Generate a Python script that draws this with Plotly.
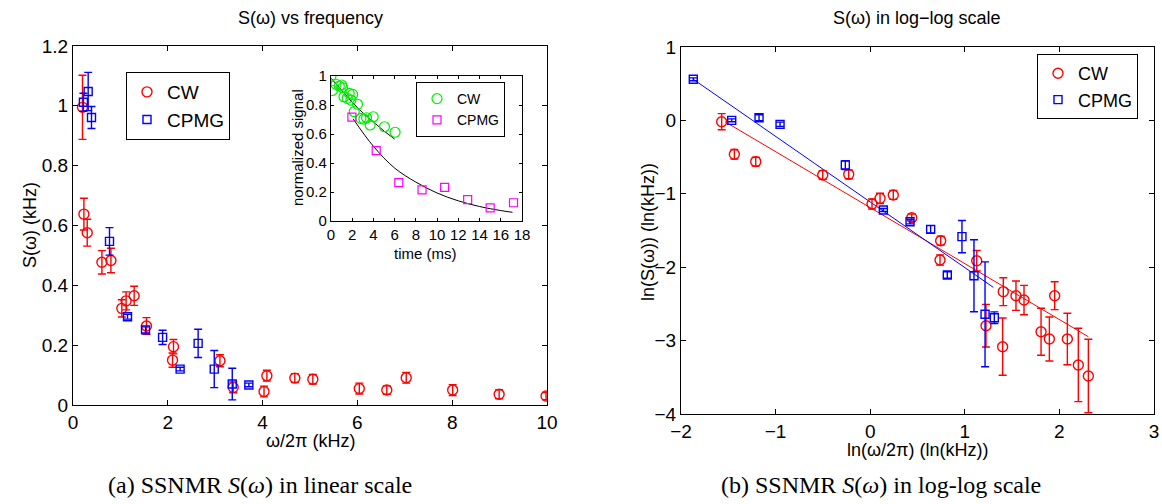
import plotly.graph_objects as go

W, H = 1162, 504

# ---------------- data: panel (a) linear scale ----------------
lin_cw_x = [0.20, 0.23, 0.30, 0.61, 0.80, 1.03, 1.12, 1.29, 1.55, 2.10, 2.12, 3.10, 3.38,
            4.03, 4.09, 4.68, 5.06, 6.04, 6.62, 7.03, 8.01, 8.99, 9.98]
lin_cw_y = [0.995, 0.638, 0.576, 0.477, 0.483, 0.323, 0.348, 0.365, 0.264, 0.150, 0.195, 0.148, 0.059,
            0.045, 0.098, 0.090, 0.086, 0.055, 0.050, 0.091, 0.050, 0.036, 0.030]
lin_cw_err = [0.107, 0.053, 0.045, 0.039, 0.041, 0.029, 0.030, 0.032, 0.028, 0.024, 0.024, 0.020, 0.018,
              0.018, 0.018, 0.015, 0.016, 0.018, 0.014, 0.018, 0.018, 0.015, 0.012]

lin_cpmg_x = [0.22, 0.32, 0.39, 0.77, 1.15, 1.53, 1.89, 2.26, 2.64, 2.98, 3.36, 3.71]
lin_cpmg_y = [1.012, 1.048, 0.961, 0.547, 0.295, 0.251, 0.226, 0.120, 0.206, 0.120, 0.070, 0.067]
lin_cpmg_err = [0.030, 0.064, 0.037, 0.046, 0.008, 0.010, 0.024, 0.006, 0.047, 0.062, 0.053, 0.006]

# ---------------- data: inset (normalized decay) ----------------
ins_cw_t = [0.0, 0.13, 0.47, 0.78, 1.0, 1.1, 1.22, 1.53, 1.72, 2.04, 1.88, 2.19, 2.5, 2.82,
            3.1, 3.35, 3.69, 3.98, 5.04, 6.04]
ins_cw_s = [1.0, 0.90, 0.943, 0.931, 0.938, 0.919, 0.857, 0.846, 0.88, 0.873, 0.834, 0.754, 0.805,
            0.708, 0.703, 0.712, 0.662, 0.719, 0.65, 0.612]
ins_cpmg_t = [1.97, 4.26, 6.39, 8.58, 10.71, 12.88, 15.0, 17.2]
ins_cpmg_s = [0.717, 0.485, 0.264, 0.214, 0.232, 0.147, 0.090, 0.126]
ins_cw_fit_t = [0, 1, 2, 3, 4, 5, 6]
ins_cw_fit_s = [0.985, 0.898, 0.818, 0.746, 0.68, 0.62, 0.565]
ins_cpmg_fit_t = [2.1, 4, 6, 8, 10, 12, 14, 16, 17.1]
ins_cpmg_fit_s = [0.703, 0.515, 0.365, 0.268, 0.193, 0.139, 0.10, 0.072, 0.06]

# ---------------- data: panel (b) log-log ----------------
log_cw_x = [-1.570, -1.436, -1.210, -0.502, -0.227, 0.019, 0.104, 0.244, 0.439, 0.745, 0.738,
            1.126, 1.224, 1.400, 1.407, 1.541, 1.626, 1.806, 1.894, 1.950, 2.084, 2.200, 2.306]
log_cw_y = [-0.018, -0.462, -0.562, -0.744, -0.735, -1.139, -1.062, -1.016, -1.325, -1.639, -1.902,
            -1.912, -2.797, -3.083, -2.333, -2.388, -2.447, -2.879, -2.978, -2.388, -2.978, -3.332, -3.482]
log_cw_err = [0.11, 0.065, 0.06, 0.06, 0.06, 0.07, 0.07, 0.06, 0.05, 0.06, 0.07,
              0.14, 0.29, 0.39, 0.19, 0.20, 0.20, 0.32, 0.30, 0.19, 0.35, 0.50, 0.50]

log_cpmg_x = [-1.870, -1.464, -1.175, -0.953, -0.263, 0.139, 0.421, 0.639, 0.815, 0.970, 1.097, 1.214, 1.312]
log_cpmg_y = [0.560, 0.001, 0.037, -0.054, -0.608, -1.221, -1.380, -1.484, -2.106, -1.584, -2.116, -2.642, -2.688]
log_cpmg_err = [0.02, 0.02, 0.04, 0.03, 0.06, 0.02, 0.03, 0.05, 0.045, 0.22, 0.49, 0.715, 0.08]

log_cw_fit_x = [-1.535, 2.306]
log_cw_fit_y = [-0.018, -2.947]
log_cpmg_fit_x = [-1.870, 1.301]
log_cpmg_fit_y = [0.560, -2.274]

lin_x_ticks = [0, 2, 4, 6, 8, 10]
lin_y_ticks = [0, 0.2, 0.4, 0.6, 0.8, 1.0, 1.2]
ins_x_ticks = [0, 2, 4, 6, 8, 10, 12, 14, 16, 18]
ins_y_ticks = [0, 0.2, 0.4, 0.6, 0.8, 1.0]
log_x_ticks = [-2, -1, 0, 1, 2, 3]
log_y_ticks = [1, 0, -1, -2, -3, -4]

# ---------------- styling ----------------
RED = "#ff0000"
BLUE = "#0000ff"
GREEN = "#00ee00"
MAG = "#ff00ff"
FONT = "Liberation Sans, Arial, sans-serif"


def px(x0, x1):
    return [x0 / W, x1 / W]


def py(top, bottom):
    return [1 - bottom / H, 1 - top / H]


fig = go.Figure()


def err_scatter(x, y, e, color, symbol, size, xa, ya, name, legend, showlegend=True):
    fig.add_trace(go.Scatter(
        x=x, y=y, mode="markers", name=name, xaxis=xa, yaxis=ya,
        legend=legend, showlegend=showlegend,
        marker=dict(symbol=symbol, size=size, color=color, line=dict(color=color, width=1.4)),
        error_y=dict(type="data", array=e, visible=True, color=color, thickness=1.4, width=4),
    ))


# panel a
err_scatter(lin_cw_x, lin_cw_y, lin_cw_err, RED, "circle-open", 10, "x", "y", "CW", "legend")
err_scatter(lin_cpmg_x, lin_cpmg_y, lin_cpmg_err, BLUE, "square-open", 8, "x", "y", "CPMG", "legend")

# inset
fig.add_trace(go.Scatter(x=ins_cw_fit_t, y=ins_cw_fit_s, mode="lines", xaxis="x3", yaxis="y3",
                         line=dict(color="black", width=1), showlegend=False))
fig.add_trace(go.Scatter(x=ins_cpmg_fit_t, y=ins_cpmg_fit_s, mode="lines", xaxis="x3", yaxis="y3",
                         line=dict(color="black", width=1, shape="spline"), showlegend=False))
fig.add_trace(go.Scatter(x=ins_cw_t, y=ins_cw_s, mode="markers", name="CW", xaxis="x3", yaxis="y3",
                         legend="legend2",
                         marker=dict(symbol="circle-open", size=10, color=GREEN, line=dict(color=GREEN, width=1.2))))
fig.add_trace(go.Scatter(x=ins_cpmg_t, y=ins_cpmg_s, mode="markers", name="CPMG", xaxis="x3", yaxis="y3",
                         legend="legend2",
                         marker=dict(symbol="square-open", size=8, color=MAG, line=dict(color=MAG, width=1.2))))

# panel b
fig.add_trace(go.Scatter(x=log_cw_fit_x, y=log_cw_fit_y, mode="lines", xaxis="x2", yaxis="y2",
                         line=dict(color=RED, width=1), showlegend=False))
fig.add_trace(go.Scatter(x=log_cpmg_fit_x, y=log_cpmg_fit_y, mode="lines", xaxis="x2", yaxis="y2",
                         line=dict(color=BLUE, width=1), showlegend=False))
err_scatter(log_cw_x, log_cw_y, log_cw_err, RED, "circle-open", 10, "x2", "y2", "CW", "legend3")
err_scatter(log_cpmg_x, log_cpmg_y, log_cpmg_err, BLUE, "square-open", 8, "x2", "y2", "CPMG", "legend3")

axis_common = dict(showline=True, linecolor="black", linewidth=1.3, mirror="ticks",
                   ticks="inside", ticklen=5, tickcolor="black", tickwidth=1,
                   showgrid=False, zeroline=False, automargin=False,
                   tickfont=dict(family=FONT, size=19, color="black"))

ins_axis = dict(axis_common)
ins_axis["tickfont"] = dict(family=FONT, size=15, color="black")
ins_axis["ticklen"] = 3

fig.update_layout(
    template="none",
    width=W, height=H, autosize=False,
    margin=dict(l=0, r=0, t=0, b=0, autoexpand=False),
    paper_bgcolor="white", plot_bgcolor="white",
    font=dict(family=FONT, color="black"),
    xaxis=dict(axis_common, domain=px(73, 547), range=[0, 10], tickvals=lin_x_ticks, anchor="y"),
    yaxis=dict(axis_common, domain=py(46, 405), range=[0, 1.2], tickvals=lin_y_ticks, anchor="x"),
    xaxis2=dict(axis_common, domain=px(681, 1154), range=[-2, 3], tickvals=log_x_ticks, anchor="y2"),
    yaxis2=dict(axis_common, domain=py(47, 414), range=[-4, 1], tickvals=log_y_ticks, anchor="x2"),
    xaxis3=dict(ins_axis, domain=px(331, 522), range=[0, 18], tickvals=ins_x_ticks, anchor="y3"),
    yaxis3=dict(ins_axis, domain=py(76, 221), range=[0, 1], tickvals=ins_y_ticks, anchor="x3"),
    legend=dict(x=126 / W, y=1 - 72 / H, xanchor="left", yanchor="top",
                bordercolor="black", borderwidth=1, bgcolor="white",
                font=dict(family=FONT, size=19, color="black"), tracegroupgap=4),
    legend2=dict(x=416 / W, y=1 - 82 / H, xanchor="left", yanchor="top",
                 bordercolor="black", borderwidth=1, bgcolor="white",
                 font=dict(family=FONT, size=14, color="black")),
    legend3=dict(x=1037 / W, y=1 - 54 / H, xanchor="left", yanchor="top",
                 bordercolor="black", borderwidth=1, bgcolor="white",
                 font=dict(family=FONT, size=18, color="black")),
)


def label(text, xc, yc, size=18, angle=0, family=FONT):
    fig.add_annotation(text=text, x=xc / W, y=1 - yc / H, xref="paper", yref="paper",
                       xanchor="center", yanchor="middle", showarrow=False, textangle=angle,
                       font=dict(family=family, size=size, color="black"))


label("S(ω) vs frequency", 310, 18)
label("S(ω) in log−log scale", 917, 18)
label("ω/2π (kHz)", 310, 441)
label("ln(ω/2π) (ln(kHz))", 917, 450)
label("S(ω) (kHz)", 30, 225, angle=-90)
label("ln(S(ω)) (ln(kHz))", 648, 232, angle=-90)
label("normalized signal", 297, 148, size=15, angle=-90)
label("time (ms)", 426, 253, size=15)
SERIF = "Liberation Serif, DejaVu Serif, serif"
label("(a) SSNMR <i>S</i>(<i>ω</i>) in linear scale", 260, 485, size=24, family=SERIF)
label("(b) SSNMR <i>S</i>(<i>ω</i>) in log-log scale", 881, 485, size=24, family=SERIF)

fig.write_html("out.html",
               config={"displayModeBar": False},
               post_script="document.body.style.margin='0';document.body.style.padding='0';")
